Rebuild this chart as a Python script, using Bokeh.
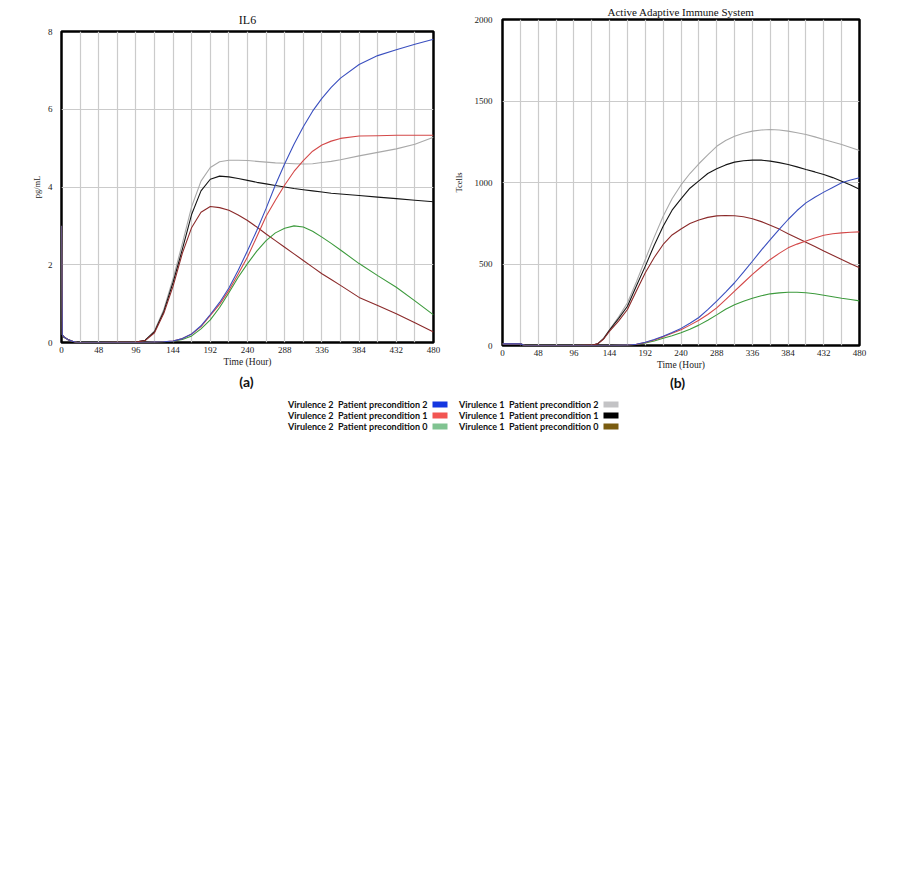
from bokeh.plotting import figure
from bokeh.models import Range1d, FixedTicker, ColumnDataSource
from bokeh.layouts import column, row
from bokeh.embed import file_html
from bokeh.resources import INLINE
from bokeh.core.properties import value

# ---------------- data: panel (a) IL6 ----------------
hours_a = [0, 1, 3, 8, 14, 20, 48, 96, 108, 120, 132, 144, 156, 168, 180, 192, 204, 216, 228,
           240, 252, 264, 276, 288, 300, 312, 324, 336, 348, 360, 384, 408, 432, 456, 480]
il6_v1_p2 = [3.0, 0.2, 0.14, 0.08, 0.03, 0.0, 0.0, 0.01, 0.06, 0.3, 0.85, 1.65, 2.55, 3.5, 4.15,
             4.5, 4.65, 4.69, 4.69, 4.68, 4.66, 4.64, 4.62, 4.61, 4.6, 4.59, 4.6, 4.63, 4.66, 4.7,
             4.8, 4.89, 4.98, 5.1, 5.28]
il6_v1_p1 = [3.0, 0.2, 0.14, 0.08, 0.03, 0.0, 0.0, 0.01, 0.06, 0.28, 0.8, 1.55, 2.4, 3.3, 3.9,
             4.2, 4.28, 4.26, 4.22, 4.17, 4.12, 4.08, 4.04, 4.0, 3.96, 3.93, 3.9, 3.87, 3.84, 3.82,
             3.78, 3.74, 3.7, 3.66, 3.62]
il6_v1_p0 = [3.0, 0.2, 0.14, 0.08, 0.03, 0.0, 0.0, 0.01, 0.05, 0.25, 0.75, 1.45, 2.3, 2.96, 3.35,
             3.5, 3.47, 3.4, 3.28, 3.14, 2.97, 2.79, 2.62, 2.45, 2.28, 2.11, 1.94, 1.77, 1.62, 1.47,
             1.16, 0.95, 0.74, 0.51, 0.27]
il6_v2_p2 = [3.0, 0.2, 0.14, 0.08, 0.03, 0.0, 0.0, 0.0, 0.0, 0.01, 0.02, 0.04, 0.1, 0.22, 0.43,
             0.72, 1.03, 1.4, 1.86, 2.36, 2.88, 3.45, 4.05, 4.6, 5.1, 5.55, 5.95, 6.28, 6.56, 6.8,
             7.15, 7.38, 7.53, 7.67, 7.8]
il6_v2_p1 = [3.0, 0.2, 0.14, 0.08, 0.03, 0.0, 0.0, 0.0, 0.0, 0.01, 0.02, 0.04, 0.1, 0.22, 0.41,
             0.7, 0.98, 1.34, 1.76, 2.2, 2.72, 3.25, 3.66, 4.05, 4.4, 4.68, 4.92, 5.08, 5.18, 5.25,
             5.31, 5.32, 5.33, 5.33, 5.33]
il6_v2_p0 = [3.0, 0.2, 0.14, 0.08, 0.03, 0.0, 0.0, 0.0, 0.0, 0.01, 0.02, 0.03, 0.08, 0.17, 0.35,
             0.58, 0.9, 1.28, 1.68, 2.03, 2.35, 2.62, 2.82, 2.94, 3.0, 2.97, 2.86, 2.71, 2.55, 2.38,
             2.03, 1.72, 1.42, 1.07, 0.71]

# ---------------- data: panel (b) Active Adaptive Immune System ----------------
hours_b = [0, 24, 30, 48, 96, 120, 128, 136, 144, 156, 168, 180, 192, 204, 216, 228, 240, 252,
           264, 276, 288, 300, 312, 324, 336, 348, 360, 372, 384, 396, 408, 420, 432, 444, 456,
           468, 480]
aais_v1_p2 = [10, 10, 0, 0, 0, 2, 12, 45, 98, 175, 262, 390, 528, 665, 793, 900, 985, 1055,
              1115, 1170, 1222, 1258, 1284, 1302, 1315, 1322, 1325, 1322, 1315, 1305, 1294, 1280,
              1264, 1249, 1233, 1215, 1196]
aais_v1_p1 = [10, 10, 0, 0, 0, 2, 10, 42, 95, 165, 241, 365, 487, 615, 732, 830, 900, 965,
              1010, 1055, 1084, 1108, 1125, 1133, 1137, 1137, 1131, 1122, 1110, 1096, 1080, 1065,
              1049, 1030, 1008, 985, 958]
aais_v1_p0 = [10, 10, 0, 0, 0, 2, 10, 40, 88, 150, 221, 335, 446, 540, 620, 678, 715, 748,
              770, 786, 795, 798, 796, 790, 778, 760, 738, 714, 686, 660, 634, 607, 580, 554,
              528, 502, 477]
aais_v2_p2 = [10, 10, 0, 0, 0, 0, 0, 0, 0, 1, 2, 8, 20, 37, 57, 80, 105, 137, 172, 220, 272,
              328, 385, 450, 517, 585, 650, 713, 773, 828, 875, 910, 941, 970, 998, 1015, 1029]
aais_v2_p1 = [10, 10, 0, 0, 0, 0, 0, 0, 0, 1, 2, 7, 18, 34, 53, 75, 97, 125, 155, 190, 231,
              282, 333, 385, 436, 483, 528, 565, 599, 622, 641, 660, 676, 686, 691, 695, 697]
aais_v2_p0 = [10, 10, 0, 0, 0, 0, 0, 0, 0, 1, 2, 6, 15, 28, 44, 60, 78, 100, 125, 155, 188,
              222, 250, 272, 290, 305, 317, 323, 327, 327, 324, 317, 308, 299, 290, 282, 274]

x_ticks = [0, 48, 96, 144, 192, 240, 288, 336, 384, 432, 480]
x_minor = [24, 72, 120, 168, 216, 264, 312, 360, 408, 456]
il6_ticks = [0, 2, 4, 6, 8]
aais_ticks = [0, 500, 1000, 1500, 2000]

legend_left = ["Virulence 2\u00a0 Patient precondition 2",
               "Virulence 2\u00a0 Patient precondition 1",
               "Virulence 2\u00a0 Patient precondition 0"]
legend_right = ["Virulence 1\u00a0 Patient precondition 2",
                "Virulence 1\u00a0 Patient precondition 1",
                "Virulence 1\u00a0 Patient precondition 0"]
swatch_left = ["#1436e0", "#f25552", "#80c391"]
swatch_right = ["#c3c3c5", "#000000", "#7a5c10"]

line_colors = {"v1p2": "#a9a9a9", "v1p1": "#151515", "v1p0": "#8b2a2a",
               "v2p0": "#3c9a3c", "v2p1": "#d34848", "v2p2": "#3a4fbf"}

SERIF = "Liberation Serif"


def panel(title, ylabel, xs, series, ymax, yticks, width, height, bl, br, bt, bb,
          ylab_standoff, ytick_standoff, title_size, title_standoff):
    p = figure(width=width, height=height, x_range=Range1d(0, 480), y_range=Range1d(0, ymax),
               output_backend="svg", toolbar_location=None,
               min_border_left=bl, min_border_right=br, min_border_top=bt, min_border_bottom=bb)
    if "frame_align" in p.properties():
        p.frame_align = False
    p.title.text = title
    p.title.align = "center"
    p.title.text_font = SERIF
    p.title.text_font_style = "normal"
    p.title.text_font_size = title_size
    p.title.text_color = "#111111"
    p.title.standoff = title_standoff
    p.outline_line_color = "black"
    p.outline_line_width = 2.5
    p.background_fill_color = "white"
    p.border_fill_color = "white"

    p.xaxis.ticker = FixedTicker(ticks=x_ticks, minor_ticks=x_minor)
    p.yaxis.ticker = FixedTicker(ticks=yticks)
    for ax in (p.xaxis, p.yaxis):
        ax.axis_line_color = None
        ax.major_tick_line_color = None
        ax.minor_tick_line_color = None
        ax.major_tick_out = 0
        ax.major_tick_in = 0
        ax.major_label_text_font = SERIF
        ax.major_label_text_font_size = "9px"
        ax.major_label_text_color = "#222222"
        ax.axis_label_text_font = SERIF
        ax.axis_label_text_font_style = "normal"
        ax.axis_label_text_color = "#222222"
    p.xaxis.axis_label = "Time (Hour)"
    p.xaxis.axis_label_text_font_size = "9.5px"
    p.xaxis.major_label_standoff = 0
    p.xaxis.axis_label_standoff = 1
    p.yaxis.axis_label = ylabel
    p.yaxis.axis_label_text_font_size = "8.5px"
    p.yaxis.major_label_standoff = ytick_standoff
    p.yaxis.axis_label_standoff = ylab_standoff

    p.xgrid.grid_line_color = "#cbcbcb"
    p.xgrid.grid_line_width = 1.2
    p.xgrid.minor_grid_line_color = "#cbcbcb"
    p.xgrid.minor_grid_line_width = 1.2
    p.ygrid.grid_line_color = "#cbcbcb"
    p.ygrid.grid_line_width = 1.2

    for key in ["v1p2", "v1p1", "v1p0", "v2p0", "v2p1", "v2p2"]:
        p.line(xs, series[key], line_color=line_colors[key], line_width=1.1)
    return p


pa = panel("IL6", "pg/mL", hours_a,
           {"v1p2": il6_v1_p2, "v1p1": il6_v1_p1, "v1p0": il6_v1_p0,
            "v2p2": il6_v2_p2, "v2p1": il6_v2_p1, "v2p0": il6_v2_p0},
           8, il6_ticks, 450, 372, 61, 17, 31, 30, 3, 9, "12px", 9)
pb = panel("Active Adaptive Immune System", "Tcells", hours_b,
           {"v1p2": aais_v1_p2, "v1p1": aais_v1_p1, "v1p0": aais_v1_p0,
            "v2p2": aais_v2_p2, "v2p1": aais_v2_p1, "v2p0": aais_v2_p0},
           2000, aais_ticks, 443, 372, 49, 34, 19, 26, 8, 10, "11px", 4)

# ---------------- legend / captions strip ----------------
LW, LH = 893, 74
pl = figure(width=LW, height=LH, x_range=Range1d(0, LW), y_range=Range1d(LH, 0),
            output_backend="svg", toolbar_location=None,
            min_border_left=0, min_border_right=0, min_border_top=0, min_border_bottom=0)
if "frame_align" in pl.properties():
    pl.frame_align = False
pl.axis.visible = False
pl.grid.visible = False
pl.outline_line_color = None
pl.background_fill_color = "white"
pl.border_fill_color = "white"

row_y = [32, 43, 54]
left_text_end, right_text_end = 427, 598
sw_w, sw_h, sw_gap = 15, 6, 5

pl.text(x=[246, 677], y=[9, 10], text=["(a)", "(b)"], text_font=value("Lato"),
        text_font_style="bold", text_font_size="14px", text_align="center",
        text_baseline="middle", text_color="#111111")

src_l = ColumnDataSource(dict(x=[left_text_end] * 3, y=row_y, t=legend_left))
src_r = ColumnDataSource(dict(x=[right_text_end] * 3, y=row_y, t=legend_right))
for src in (src_l, src_r):
    pl.text(x="x", y="y", text="t", source=src, text_font=value("Lato"),
            text_font_style="bold", text_font_size="9px", text_align="right",
            text_baseline="middle", text_color="#111111")

for xe, cols in ((left_text_end, swatch_left), (right_text_end, swatch_right)):
    pl.quad(left=[xe + sw_gap] * 3, right=[xe + sw_gap + sw_w] * 3,
            top=[y - sw_h / 2 for y in row_y], bottom=[y + sw_h / 2 for y in row_y],
            fill_color=cols, line_color=None)

layout = column(row(column(pa), column(pb)), pl)
open("out.html", "w").write(file_html(layout, INLINE))
